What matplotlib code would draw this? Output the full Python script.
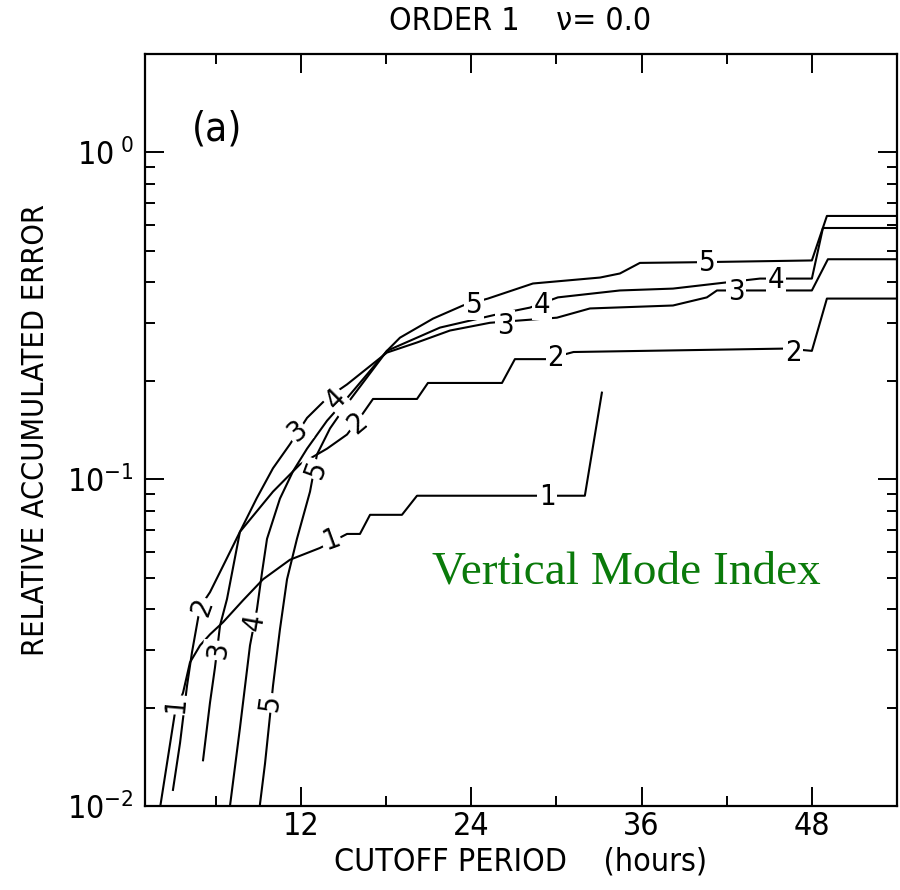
import matplotlib.pyplot as plt
from matplotlib.ticker import FixedLocator, NullFormatter

plt.rcParams['font.family'] = ['DejaVu Sans']
plt.rcParams['font.stretch'] = 'condensed'

# cutoff period (hours) / relative accumulated error for each vertical mode
x1 = [2.0, 3.11, 3.68, 4.17, 4.88, 5.58, 6.5, 7.91, 9.32, 11.22, 13.33, 15.24, 16.15, 16.86, 19.11, 20.17, 32.0, 33.2]
y1 = [0.0095, 0.0193, 0.0222, 0.0275, 0.031, 0.0335, 0.0365, 0.0426, 0.0494, 0.0567, 0.0616, 0.068, 0.068, 0.0778, 0.0778, 0.089, 0.089, 0.184]

x2 = [2.97, 3.47, 3.96, 4.31, 4.88, 5.58, 6.64, 7.69, 10.02, 11.92, 13.83, 15.24, 16.36, 17.07, 20.17, 20.94, 26.16, 27.07, 29.33, 31.2, 46.2, 48.0, 49.06, 54.0]
y2 = [0.0112, 0.0156, 0.0233, 0.0295, 0.0406, 0.0451, 0.0558, 0.069, 0.0916, 0.111, 0.124, 0.137, 0.159, 0.176, 0.176, 0.197, 0.197, 0.233, 0.233, 0.245, 0.251, 0.247, 0.357, 0.357]

x3 = [5.09, 5.58, 5.93, 6.29, 6.78, 7.69, 8.87, 10.02, 11.22, 12.42, 13.83, 15.24, 18.05, 20.17, 22.49, 25.31, 27.43, 30.03, 32.36, 38.21, 40.6, 41.31, 48.0, 49.13, 54.0]
y3 = [0.0138, 0.0207, 0.0265, 0.0357, 0.043, 0.069, 0.0874, 0.108, 0.128, 0.154, 0.177, 0.195, 0.244, 0.262, 0.285, 0.301, 0.306, 0.312, 0.333, 0.340, 0.360, 0.378, 0.378, 0.471, 0.471]

x4 = [6.95, 7.69, 8.4, 8.89, 9.25, 9.6, 10.51, 11.43, 12.42, 13.83, 15.24, 18.05, 21.79, 26.02, 28.13, 30.1, 34.47, 38.21, 41.31, 44.34, 48.0, 48.78, 54.0]
y4 = [0.0097, 0.0173, 0.031, 0.040, 0.0519, 0.0657, 0.0872, 0.1057, 0.124, 0.151, 0.177, 0.247, 0.291, 0.321, 0.335, 0.360, 0.378, 0.383, 0.397, 0.411, 0.411, 0.587, 0.587]

x5 = [9.05, 9.46, 9.81, 10.02, 10.51, 11.01, 11.71, 12.63, 13.12, 14.04, 15.24, 18.05, 18.97, 21.3, 23.41, 25.17, 28.34, 33.07, 34.47, 35.88, 39.62, 48.0, 49.06, 54.0]
y5 = [0.0097, 0.0135, 0.0189, 0.0233, 0.0347, 0.0494, 0.0657, 0.0916, 0.119, 0.143, 0.170, 0.247, 0.271, 0.310, 0.340, 0.357, 0.397, 0.414, 0.426, 0.459, 0.461, 0.467, 0.639, 0.639]

# inline curve labels: text, x, y, rotation
lab_txt = ['1', '1', '1',
           '2', '2', '2', '2',
           '3', '3', '3', '3',
           '4', '4', '4', '4',
           '5', '5', '5', '5']
lab_x = [3.18, 14.11, 29.33,
         5.02, 15.94, 29.96, 46.67,
         6.14, 11.71, 26.37, 42.65,
         8.68, 14.46, 28.98, 45.47,
         9.81, 13.05, 24.19, 40.6]
lab_y = [0.0204, 0.0652, 0.0885,
         0.0406, 0.148, 0.235, 0.244,
         0.0299, 0.140, 0.295, 0.373,
         0.0365, 0.175, 0.342, 0.406,
         0.0207, 0.107, 0.342, 0.458]
lab_rot = [85, 20, 0,
           70, 40, 0, 0,
           82, 40, 0, 0,
           80, 45, 0, 0,
           82, 70, 0, 0]

fig = plt.figure(figsize=(9, 8.9), dpi=100)
ax = fig.add_axes([145/900, 1 - 806/890, 752/900, 752/890])

for xs, ys in [(x1, y1), (x2, y2), (x3, y3), (x4, y4), (x5, y5)]:
    ax.plot(xs, ys, color='black', lw=1.5, zorder=2)

for t, x, y, r in zip(lab_txt, lab_x, lab_y, lab_rot):
    ax.text(x, y, t, rotation=r, ha='center', va='center', fontsize=21,
            zorder=3, bbox=dict(facecolor='white', edgecolor='none', pad=1.0))

ax.set_yscale('log')
ax.set_xlim(1, 54)
ax.set_ylim(0.01, 2.0)

ax.xaxis.set_major_locator(FixedLocator([12, 24, 36, 48]))
ax.xaxis.set_minor_locator(FixedLocator([6, 18, 30, 42]))
ax.set_xticklabels(['12', '24', '36', '48'])
ax.yaxis.set_major_locator(FixedLocator([0.01, 0.1, 1.0]))
ax.yaxis.set_minor_locator(FixedLocator([m * d for d in (0.01, 0.1, 1.0) for m in range(2, 10)]))
ax.yaxis.set_minor_formatter(NullFormatter())
ax.set_yticklabels([r'$\mathregular{10^{-2}}$', r'$\mathregular{10^{-1}}$', r'$\mathregular{10^{\ 0}}$'])

ax.tick_params(which='both', direction='in', top=True, right=True, width=1.4, labelsize=23)
ax.tick_params(which='major', length=14)
ax.tick_params(which='minor', length=7)
ax.tick_params(axis='y', pad=8)
for s in ax.spines.values():
    s.set_linewidth(1.6)

ax.set_xlabel('CUTOFF PERIOD    (hours)', fontsize=23, labelpad=3)
ax.set_ylabel('RELATIVE ACCUMULATED ERROR', fontsize=22, labelpad=12)
fig.text(0.578, 0.976, 'ORDER 1    ν= 0.0', ha='center', va='center', fontsize=23)

ax.text(0.096, 0.899, '(a)', transform=ax.transAxes, ha='center', va='center', fontsize=29)
ax.text(0.382, 0.311, 'Vertical Mode Index', transform=ax.transAxes, ha='left', va='center',
        fontsize=34, color='#0a7a0a', family='Liberation Serif')

fig.savefig('out.png', dpi=100)
